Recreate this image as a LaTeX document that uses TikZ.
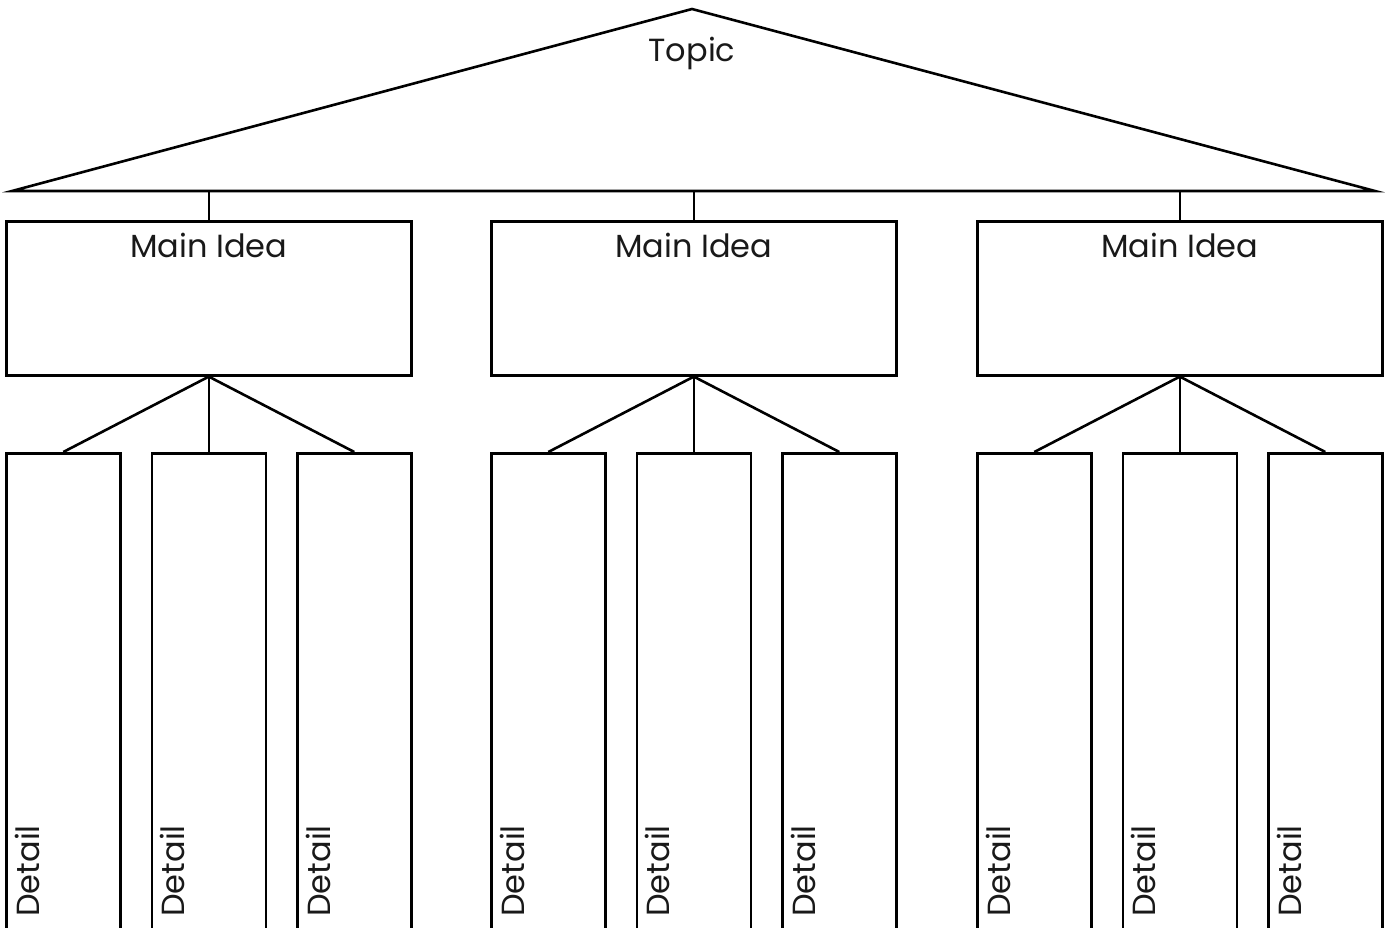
\documentclass[tikz,border=0pt]{standalone}
\usepackage{fontspec}
\setmainfont{Poppins}
\usetikzlibrary{calc}
\begin{document}
\begin{tikzpicture}[x=1pt,y=-1pt, line width=2.6pt, line join=miter,
  lbl/.style={font=\fontsize{32}{36}\selectfont, inner sep=0pt, anchor=base, text=black!90},
  mainbox/.style={draw, minimum width=405pt, minimum height=154pt, inner sep=0pt, anchor=north west},
  detailbox/.style={draw, minimum width=114pt, minimum height=520pt, inner sep=0pt, anchor=north west},
  dlbl/.style={font=\fontsize{32}{36}\selectfont, inner sep=0pt, rotate=90, anchor=base west, text=black!90}]
\useasboundingbox (0,0) rectangle (1388,927);
\clip (0,0) rectangle (1388,927);
% topic triangle
\coordinate (apex) at (692,9);
\coordinate (bl) at (12,191);
\coordinate (br) at (1375,191);
\draw (apex) -- (bl) -- (br) -- cycle;
\node[lbl] (topic) at (692,61) {Topic};
% main ideas
\foreach \i/\x in {1/5,2/490,3/976}{
  \node[mainbox] (m\i) at (\x,220) {};
  \node[lbl] (mt\i) at ($(m\i.north)+(0,37)$) {Main Idea};
  \coordinate (t\i) at (m\i.north |- bl);
  \draw (t\i) -- (m\i.north);
  \foreach \j/\dx in {1/0,2/145.5,3/291}{
    \node[detailbox] (d\i\j) at (\x+\dx,452) {};
    \node[dlbl] (dt\i\j) at ($(d\i\j.north west)+(34,466)$) {Detail};
    \draw (m\i.south) -- (d\i\j.north);
  }
}
\end{tikzpicture}
\end{document}
